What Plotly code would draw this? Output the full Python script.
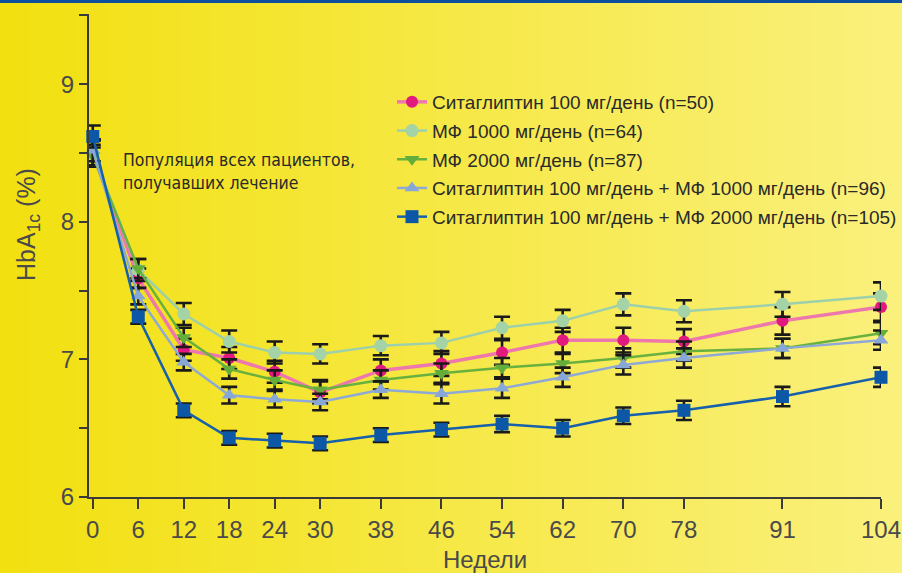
import plotly.graph_objects as go

weeks = [0, 6, 12, 18, 24, 30, 38, 46, 54, 62, 70, 78, 91, 104]

names = [
    "Ситаглиптин 100 мг/день (n=50)",
    "МФ 1000 мг/день (n=64)",
    "МФ 2000 мг/день (n=87)",
    "Ситаглиптин 100 мг/день + МФ 1000 мг/день (n=96)",
    "Ситаглиптин 100 мг/день + МФ 2000 мг/день (n=105)",
]

sita100 = [8.50, 7.59, 7.07, 7.01, 6.91, 6.76, 6.92, 6.97, 7.05, 7.14, 7.14, 7.13, 7.28, 7.38]
mf1000 = [8.50, 7.65, 7.33, 7.13, 7.05, 7.04, 7.10, 7.12, 7.23, 7.28, 7.40, 7.35, 7.40, 7.46]
mf2000 = [8.48, 7.66, 7.16, 6.93, 6.85, 6.78, 6.85, 6.90, 6.94, 6.97, 7.01, 7.06, 7.08, 7.19]
sita_mf1000 = [8.52, 7.46, 6.98, 6.74, 6.71, 6.69, 6.78, 6.75, 6.79, 6.87, 6.96, 7.01, 7.08, 7.14]
sita_mf2000 = [8.62, 7.31, 6.63, 6.43, 6.41, 6.39, 6.45, 6.49, 6.53, 6.50, 6.59, 6.63, 6.73, 6.87]

err_sita100 = [0.09, 0.07, 0.08, 0.08, 0.08, 0.08, 0.08, 0.09, 0.09, 0.09, 0.09, 0.09, 0.10, 0.10]
err_mf1000 = [0.10, 0.08, 0.08, 0.08, 0.08, 0.07, 0.07, 0.08, 0.08, 0.08, 0.08, 0.08, 0.09, 0.10]
err_mf2000 = [0.08, 0.07, 0.07, 0.07, 0.07, 0.07, 0.07, 0.07, 0.07, 0.07, 0.07, 0.07, 0.07, 0.08]
err_sita_mf1000 = [0.08, 0.06, 0.06, 0.06, 0.06, 0.06, 0.06, 0.07, 0.07, 0.07, 0.07, 0.07, 0.07, 0.07]
err_sita_mf2000 = [0.08, 0.05, 0.05, 0.05, 0.05, 0.05, 0.05, 0.05, 0.06, 0.06, 0.06, 0.07, 0.07, 0.07]

y_ticks = [6, 7, 8, 9]

series = [sita100, mf1000, mf2000, sita_mf1000, sita_mf2000]
errors = [err_sita100, err_mf1000, err_mf2000, err_sita_mf1000, err_sita_mf2000]
line_colors = ["#ee78ad", "#9cd0ac", "#68b13e", "#8ea9d6", "#1760ab"]
marker_colors = ["#e2197f", "#a3d3a6", "#63ad3a", "#86a7d8", "#0c58a6"]
symbols = ["circle", "circle", "triangle-down", "triangle-up", "square"]
sizes = [12, 13, 13, 13, 13]
widths = [3.5, 2.5, 2.5, 2.5, 2.5]

# plot area in pixels
L, R, T, B = 89, 881, 14, 497
W, H = 902, 573
pw, ph = R - L, B - T


def px(xp):
    return (xp - L) / pw


def py(yp):
    return (B - yp) / ph


fig = go.Figure()

# background gradient (style only)
shapes = []
n = 60
c0 = (242, 224, 16)
c1 = (250, 240, 124)
for i in range(n):
    t = i / (n - 1)
    c = tuple(round(c0[k] + (c1[k] - c0[k]) * t) for k in range(3))
    x0 = i * W / n
    x1 = (i + 1) * W / n + 1
    shapes.append(dict(type="rect", xref="paper", yref="paper", layer="below",
                       x0=px(x0), x1=px(x1), y0=py(H), y1=py(0),
                       fillcolor="rgb(%d,%d,%d)" % c, line=dict(width=0)))
# top blue border
shapes.append(dict(type="rect", xref="paper", yref="paper", layer="above",
                   x0=px(0), x1=px(W), y0=py(3), y1=py(0),
                   fillcolor="#0b4f9e", line=dict(width=0)))

for i in range(5):
    fig.add_trace(go.Scatter(
        x=weeks, y=series[i], name=names[i], mode="lines+markers",
        legendgroup=str(i),
        line=dict(color=line_colors[i], width=widths[i]),
        marker=dict(symbol=symbols[i], size=sizes[i], color=marker_colors[i],
                    line=dict(width=0)),
        error_y=dict(type="data", array=errors[i], color="#1a1a1a",
                     thickness=2.6, width=8),
        cliponaxis=False,
    ))

fig.update_layout(
    width=W, height=H,
    margin=dict(l=L, r=W - R, t=T, b=H - B, autoexpand=False),
    paper_bgcolor="rgb(242,224,16)",
    plot_bgcolor="rgba(0,0,0,0)",
    shapes=shapes,
    font=dict(family="Liberation Sans, Arial, sans-serif", color="#444444"),
    showlegend=True,
    legend=dict(x=px(392), y=py(83), xanchor="left", yanchor="top",
                bgcolor="rgba(0,0,0,0)", tracegroupgap=1,
                font=dict(size=19, color="#2a2a2a", family="Liberation Sans, Arial, sans-serif")),
    xaxis=dict(range=[-0.5, 104], tickvals=weeks, ticktext=[str(w) for w in weeks],
               showgrid=False, zeroline=False, showline=True, linecolor="#3a3a3a",
               linewidth=2, ticks="outside", ticklen=10, tickwidth=2, tickcolor="#3a3a3a",
               tickfont=dict(size=24, color="#4a4a4a"), automargin=False),
    yaxis=dict(range=[6, 9.51], tickvals=y_ticks, showgrid=False, zeroline=False,
               showline=True, linecolor="#3a3a3a", linewidth=2, ticks="outside",
               ticklen=8, tickwidth=2, tickcolor="#3a3a3a",
               minor=dict(dtick=0.5, ticks="outside", ticklen=8, tickwidth=2,
                          tickcolor="#3a3a3a", showgrid=False),
               tickfont=dict(size=24, color="#4a4a4a"), automargin=False),
    annotations=[
        dict(text="HbA<sub>1c</sub> (%)", xref="paper", yref="paper",
             x=px(28), y=py(225), textangle=-90, showarrow=False,
             xanchor="center", yanchor="middle",
             font=dict(size=25, color="#4a4a4a")),
        dict(text="Недели", xref="paper", yref="paper", x=px(485), y=py(559),
             showarrow=False, xanchor="center", yanchor="middle",
             font=dict(size=24, color="#4a4a4a")),
        dict(text="Популяция всех пациентов,<br>получавших лечение", xref="paper",
             yref="paper", x=px(121), y=py(171), showarrow=False, align="left",
             xanchor="left", yanchor="middle",
             font=dict(size=17.5, color="#2a2a2a",
                       family="Liberation Sans Narrow, DejaVu Sans Condensed, Arial Narrow, Liberation Sans, sans-serif")),
    ],
)

fig.write_html("out.html", config={"displayModeBar": False},
               post_script="document.body.style.margin='0';document.body.style.overflow='hidden';")
